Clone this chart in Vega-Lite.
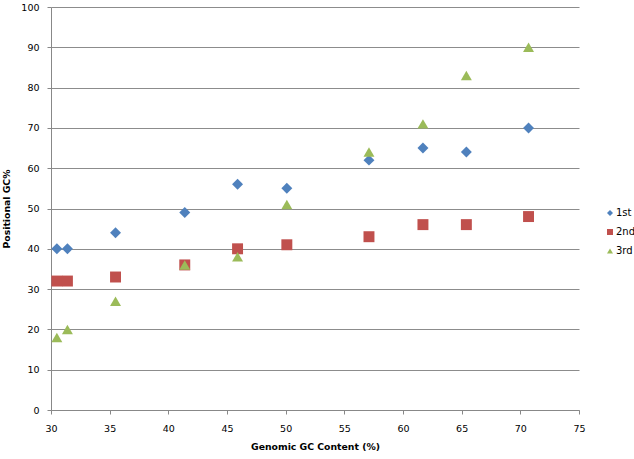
{
  "$schema": "https://vega.github.io/schema/vega-lite/v6.json",
  "autosize": "none",
  "width": 528,
  "height": 403,
  "padding": {"left": 51, "top": 7, "right": 55, "bottom": 49},
  "background": "white",
  "config": {
    "font": "DejaVu Sans",
    "view": {"stroke": null}
  },
  "data": {
    "values": [
      {"genomic": 30.5, "value": 40, "position": "1st"},
      {"genomic": 31.4, "value": 40, "position": "1st"},
      {"genomic": 35.5, "value": 44, "position": "1st"},
      {"genomic": 41.4, "value": 49, "position": "1st"},
      {"genomic": 45.9, "value": 56, "position": "1st"},
      {"genomic": 50.1, "value": 55, "position": "1st"},
      {"genomic": 57.1, "value": 62, "position": "1st"},
      {"genomic": 61.7, "value": 65, "position": "1st"},
      {"genomic": 65.4, "value": 64, "position": "1st"},
      {"genomic": 70.7, "value": 70, "position": "1st"},
      {"genomic": 30.5, "value": 32, "position": "2nd"},
      {"genomic": 31.4, "value": 32, "position": "2nd"},
      {"genomic": 35.5, "value": 33, "position": "2nd"},
      {"genomic": 41.4, "value": 36, "position": "2nd"},
      {"genomic": 45.9, "value": 40, "position": "2nd"},
      {"genomic": 50.1, "value": 41, "position": "2nd"},
      {"genomic": 57.1, "value": 43, "position": "2nd"},
      {"genomic": 61.7, "value": 46, "position": "2nd"},
      {"genomic": 65.4, "value": 46, "position": "2nd"},
      {"genomic": 70.7, "value": 48, "position": "2nd"},
      {"genomic": 30.5, "value": 18, "position": "3rd"},
      {"genomic": 31.4, "value": 20, "position": "3rd"},
      {"genomic": 35.5, "value": 27, "position": "3rd"},
      {"genomic": 41.4, "value": 36, "position": "3rd"},
      {"genomic": 45.9, "value": 38, "position": "3rd"},
      {"genomic": 50.1, "value": 51, "position": "3rd"},
      {"genomic": 57.1, "value": 64, "position": "3rd"},
      {"genomic": 61.7, "value": 71, "position": "3rd"},
      {"genomic": 65.4, "value": 83, "position": "3rd"},
      {"genomic": 70.7, "value": 90, "position": "3rd"}
    ]
  },
  "mark": {"type": "point", "filled": true, "opacity": 1, "size": 120},
  "encoding": {
    "x": {
      "field": "genomic",
      "type": "quantitative",
      "scale": {"domain": [30, 75], "nice": false, "zero": false},
      "axis": {
        "title": "Genomic GC Content (%)",
        "titleFont": "DejaVu Sans",
        "titleFontSize": 9.3,
        "titleFontWeight": "bold",
        "titleColor": "#000",
        "titlePadding": 10,
        "values": [30, 35, 40, 45, 50, 55, 60, 65, 70, 75],
        "labelFontSize": 9.5,
        "labelColor": "#000",
        "labelFlush": false,
        "labelPadding": 9,
        "grid": false,
        "domainColor": "#888888",
        "tickColor": "#888888",
        "tickSize": 4
      }
    },
    "y": {
      "field": "value",
      "type": "quantitative",
      "scale": {"domain": [0, 100], "nice": false},
      "axis": {
        "title": "Positional GC%",
        "titleFont": "DejaVu Sans",
        "titleFontSize": 9.3,
        "titleFontWeight": "bold",
        "titleColor": "#000",
        "titlePadding": 9,
        "values": [0, 10, 20, 30, 40, 50, 60, 70, 80, 90, 100],
        "labelFontSize": 9.5,
        "labelColor": "#000",
        "labelFlush": false,
        "labelPadding": 8,
        "grid": true,
        "gridColor": "#8c8c8c",
        "gridWidth": 1,
        "domainColor": "#888888",
        "tickColor": "#888888",
        "tickSize": 4
      }
    },
    "color": {
      "field": "position",
      "type": "nominal",
      "scale": {"domain": ["1st", "2nd", "3rd"], "range": ["#4F81BD", "#C0504D", "#9BBB59"]},
      "legend": {
        "title": null,
        "orient": "none",
        "legendX": 554,
        "legendY": 201,
        "labelFontSize": 10,
        "labelColor": "#000",
        "symbolSize": 36,
        "rowPadding": 9,
        "labelOffset": 1
      }
    },
    "shape": {
      "field": "position",
      "type": "nominal",
      "scale": {"domain": ["1st", "2nd", "3rd"], "range": ["diamond", "square", "triangle-up"]}
    }
  }
}
